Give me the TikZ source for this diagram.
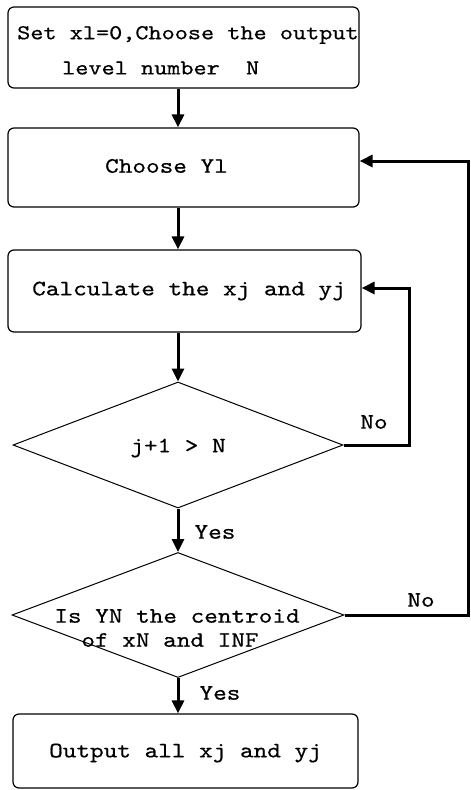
\documentclass[tikz,border=0pt]{standalone}
\usepackage{fontspec}
\usetikzlibrary{shapes.geometric,arrows.meta,calc}
\newfontfamily\monofam{lmmono10-regular.otf}[FakeStretch=1.18,FakeBold=0.5]
\begin{document}
\begin{tikzpicture}[x=1pt,y=-1pt,
  every node/.style={font=\monofam\fontsize{22}{30}\selectfont},
  procbox/.style={draw,line width=1.2pt,rounded corners=6pt,inner sep=0pt},
  decision/.style={draw,diamond,line width=1pt,inner sep=0pt},
  flow/.style={line width=3pt,-{Triangle[width=12pt,length=13pt]}},
  lbl/.style={inner sep=0pt}]
\useasboundingbox (0,0) rectangle (471,790);
\fill[white] (0,0) rectangle (471,790);
% boxes
\node[procbox,minimum width=351pt,minimum height=81pt] (b1) at (183.5,47.5) {};
\node[lbl,anchor=west,font=\monofam\fontsize{21.2}{28}\selectfont] (t1a) at (17,35) {Set xl=0,Choose the output};
\node[lbl,anchor=west,font=\monofam\fontsize{21.2}{28}\selectfont] (t1b) at (62,68) {level number\ \ N};
\node[procbox,minimum width=351pt,minimum height=79pt] (b2) at (183.5,167.5) {};
\node[lbl] (t2) at (166.5,166) {Choose Yl};
\node[procbox,minimum width=353pt,minimum height=82pt] (b3) at (184.5,291) {};
\node[lbl] (t3) at (189,291) {Calculate the xj and yj};
\node[decision,minimum width=330pt,minimum height=126pt] (d1) at (178,445) {};
\node[lbl] (t4) at (178,448) {j+1 > N};
\node[decision,minimum width=332pt,minimum height=125pt] (d2) at (178,615) {};
\node[lbl] (t5a) at (177,616) {Is YN the centroid};
\node[lbl] (t5b) at (170,640) {of xN and INF};
\node[procbox,minimum width=345pt,minimum height=74pt] (b4) at (185.5,751) {};
\node[lbl] (t6) at (185.5,753) {Output all xj and yj};
% labels
\node[lbl] (no1) at (374,422) {No};
\node[lbl] (no2) at (421,600) {No};
\node[lbl] (yes1) at (215,532) {Yes};
\node[lbl] (yes2) at (220,693) {Yes};
% connectors
\draw[flow] (b1.south -| d1.north) -- (b2.north -| d1.north);
\draw[flow] (b2.south -| d1.north) -- (b3.north -| d1.north);
\draw[flow] (b3.south -| d1.north) -- (d1.north);
\draw[flow] (d1.south) -- (d2.north);
\draw[flow] (d2.south) -- (b4.north -| d2.south);
\draw[flow] (d1.east) -- ++(66,0) |- ([yshift=3pt]b3.east);
\draw[flow] (d2.east) -- ++(124,0) |- ([yshift=6.5pt]b2.east);
\end{tikzpicture}
\end{document}
